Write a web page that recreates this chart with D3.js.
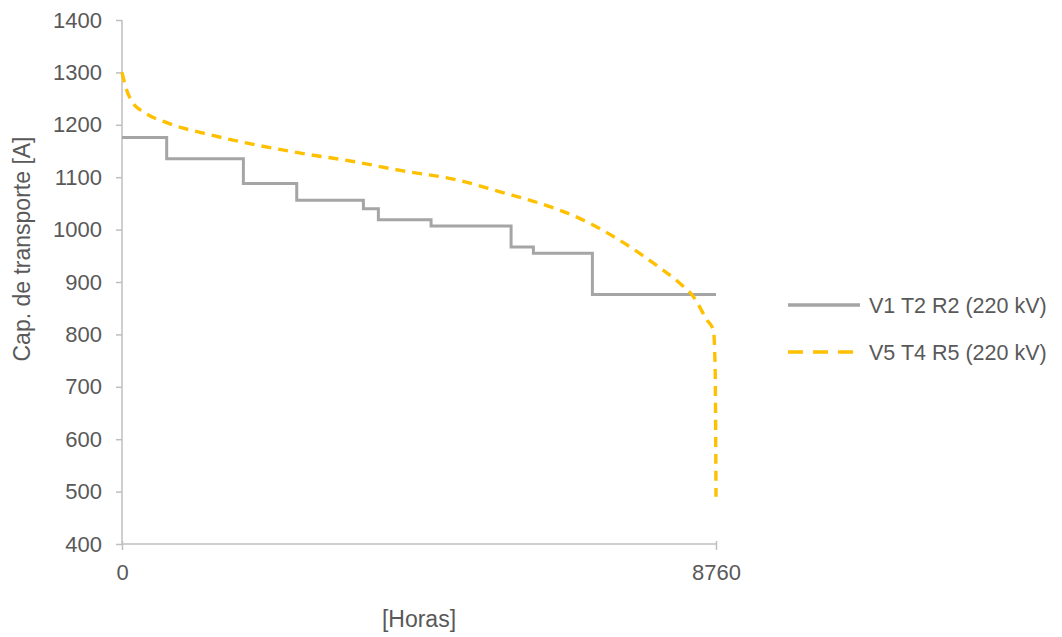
<!DOCTYPE html>
<html><head><meta charset="utf-8">
<script src="https://cdn.jsdelivr.net/npm/d3@7"></script>
<style>body{margin:0;background:#fff}svg{display:block}text{font-family:"Liberation Sans",Arial,sans-serif;fill:#595959}</style>
</head><body><svg id="c" width="1062" height="637"></svg>
<script>
// Data
const seriesNames = ["V1 T2 R2 (220 kV)", "V5 T4 R5 (220 kV)"];
const stepHours = [0, 659, 1790, 2577, 3560, 3781, 4558, 5738, 6067, 6937, 8760];
const stepValues = [1176, 1135, 1088, 1056, 1040, 1019, 1007, 967, 955, 876, 876];
const curveHours = [0, 60, 143, 350, 659, 1298, 2036, 2724, 3412, 4100, 4937, 5576, 6166, 6805, 7297, 7837, 8230, 8427, 8624, 8722, 8747, 8760];
const curveValues = [1300, 1270, 1245, 1222, 1204, 1181, 1160, 1144, 1130, 1113, 1095, 1072, 1050, 1018, 983, 936, 897, 872, 828, 808, 738, 490];
const yTicks = [400, 500, 600, 700, 800, 900, 1000, 1100, 1200, 1300, 1400];
const xTicks = [0, 8760];

const svg = d3.select("#c");
const x = d3.scaleLinear().domain([0, 8760]).range([122, 716]);
const y = d3.scaleLinear().domain([400, 1400]).range([544, 20]);
const axisColor = "#bfbfbf";
const ff = '"Liberation Sans",Arial,sans-serif';

// Y axis
const ya = svg.append("g").attr("transform", "translate(122,0)")
  .call(d3.axisLeft(y).tickValues(yTicks).tickSize(6).tickPadding(14).tickFormat(d3.format("d")));
ya.select(".domain").attr("stroke", axisColor).attr("stroke-width", 1.5).attr("d", "M0,20V544");
ya.selectAll(".tick line").attr("stroke", axisColor).attr("stroke-width", 1.5);
ya.selectAll("text").attr("font-size", 22).attr("fill", "#595959").style("font-family", ff);

// X axis
const xa = svg.append("g").attr("transform", "translate(0,544)")
  .call(d3.axisBottom(x).tickValues(xTicks).tickSize(6).tickPadding(14).tickFormat(d3.format("d")));
xa.select(".domain").attr("stroke", axisColor).attr("stroke-width", 1.5).attr("d", "M122,0H716");
xa.selectAll(".tick line").attr("stroke", axisColor).attr("stroke-width", 1.5).attr("y1", -3);
xa.selectAll("text").attr("font-size", 22).attr("fill", "#595959").style("font-family", ff);

// Axis titles
svg.append("text").attr("x", 419).attr("y", 627).attr("text-anchor", "middle").attr("font-size", 23).text("[Horas]");
svg.append("text").attr("transform", "translate(30,249) rotate(-90)").attr("text-anchor", "middle").attr("font-size", 23).text("Cap. de transporte [A]");

// Series
const stepData = stepHours.map((h, i) => [h, stepValues[i]]);
const curveData = curveHours.map((h, i) => [h, curveValues[i]]);
svg.append("path").datum(stepData)
  .attr("d", d3.line().x(d => x(d[0])).y(d => y(d[1])).curve(d3.curveStepAfter))
  .attr("fill", "none").attr("stroke", "#a5a5a5").attr("stroke-width", 3);
svg.append("path").datum(curveData)
  .attr("d", d3.line().x(d => x(d[0])).y(d => y(d[1])).curve(d3.curveMonotoneX))
  .attr("fill", "none").attr("stroke", "#ffc000").attr("stroke-width", 3.4).attr("stroke-dasharray", "10,7");

// Legend
const leg = svg.append("g");
const legY = [305, 352];
const legStyle = [{c: "#a5a5a5", d: null}, {c: "#ffc000", d: "15,10"}];
seriesNames.forEach((n, i) => {
  leg.append("line").attr("x1", 788).attr("x2", 860).attr("y1", legY[i]).attr("y2", legY[i])
    .attr("stroke", legStyle[i].c).attr("stroke-width", 3.4).attr("stroke-dasharray", legStyle[i].d);
  leg.append("text").attr("x", 869).attr("y", legY[i] + 8).attr("font-size", 21.5).text(n);
});
</script></body></html>
